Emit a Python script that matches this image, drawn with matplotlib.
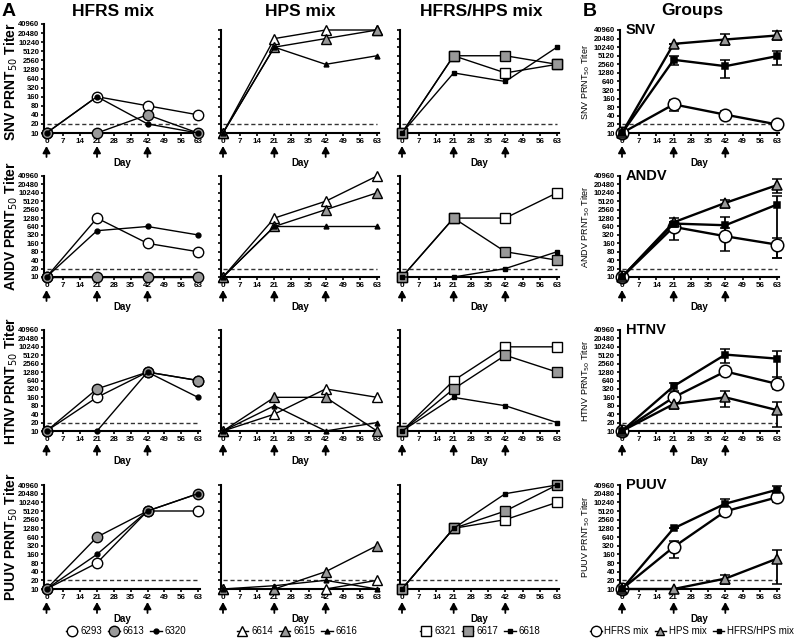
import matplotlib
matplotlib.use("Agg")
import matplotlib.pyplot as plt
from matplotlib.lines import Line2D

plt.rcParams['font.family'] = ['Liberation Sans', 'DejaVu Sans']

# ---- data (PRNT50 titers) ----
days = [0, 21, 42, 63]
viruses = ['SNV', 'ANDV', 'HTNV', 'PUUV']
vaccinated = [0, 21, 42]

# HFRS mix animals
hfrs_6293 = {'SNV': [10, 160, 80, 40], 'ANDV': [10, 1280, 160, 80],
             'HTNV': [10, 160, 1280, 640], 'PUUV': [10, 80, 5120, 5120]}
hfrs_6613 = {'SNV': [10, 10, 40, 10], 'ANDV': [10, 10, 10, 10],
             'HTNV': [10, 320, 1280, 640], 'PUUV': [10, 640, 5120, 20480]}
hfrs_6320 = {'SNV': [10, 160, 20, 10], 'ANDV': [10, 453, 640, 320],
             'HTNV': [10, 10, 1280, 160], 'PUUV': [10, 160, 5120, 20480]}
# HPS mix animals
hps_6614 = {'SNV': [10, 20480, 40960, 40960], 'ANDV': [10, 1280, 5120, 40960],
            'HTNV': [10, 40, 320, 160], 'PUUV': [10, 10, 10, 20]}
hps_6615 = {'SNV': [10, 10240, 20480, 40960], 'ANDV': [10, 640, 2560, 10240],
            'HTNV': [10, 160, 160, 10], 'PUUV': [10, 10, 40, 320]}
hps_6616 = {'SNV': [10, 10240, 2560, 5120], 'ANDV': [10, 640, 640, 640],
            'HTNV': [10, 80, 10, 20], 'PUUV': [10, 13, 20, 10]}
# HFRS/HPS mix animals
mix_6321 = {'SNV': [10, 5120, 1280, 2560], 'ANDV': [10, 1280, 1280, 10240],
            'HTNV': [10, 640, 10240, 10240], 'PUUV': [10, 1280, 2560, 10240]}
mix_6617 = {'SNV': [10, 5120, 5120, 2560], 'ANDV': [10, 1280, 80, 40],
            'HTNV': [10, 320, 5120, 1280], 'PUUV': [10, 1280, 5120, 40960]}
mix_6618 = {'SNV': [10, 1280, 640, 10240], 'ANDV': [10, 10, 20, 80],
            'HTNV': [10, 160, 80, 20], 'PUUV': [10, 1280, 20480, 40960]}

# group geometric means with error bar limits
grp_hfrs = {'SNV': [10, 101, 44, 20], 'ANDV': [10, 620, 287, 144],
            'HTNV': [10, 160, 1350, 485], 'PUUV': [10, 288, 5000, 15300]}
grp_hfrs_lo = {'SNV': [10, 59, 34, 15], 'ANDV': [10, 217, 88, 48],
               'HTNV': [10, 140, 1100, 320], 'PUUV': [10, 120, 3380, 10240]}
grp_hfrs_hi = {'SNV': [10, 149, 59, 26], 'ANDV': [10, 1280, 570, 250],
               'HTNV': [10, 185, 1650, 845], 'PUUV': [10, 453, 7240, 21900]}
grp_hps = {'SNV': [10, 13400, 19000, 26300], 'ANDV': [10, 905, 4470, 19300],
           'HTNV': [10, 92, 160, 56], 'PUUV': [10, 10, 23, 113]}
grp_hps_lo = {'SNV': [10, 13400, 11800, 17600], 'ANDV': [10, 905, 2940, 10240],
              'HTNV': [10, 61, 74, 14], 'PUUV': [10, 10, 15, 15]}
grp_hps_hi = {'SNV': [10, 13400, 30000, 37200], 'ANDV': [10, 905, 5880, 33300],
              'HTNV': [10, 121, 264, 112], 'PUUV': [10, 10, 31, 220]}
grp_mix = {'SNV': [10, 3690, 2210, 4950], 'ANDV': [10, 815, 710, 3900],
           'HTNV': [10, 400, 5400, 3880], 'PUUV': [10, 1280, 9200, 28000]}
grp_mix_lo = {'SNV': [10, 2340, 860, 2340], 'ANDV': [10, 815, 378, 48],
              'HTNV': [10, 264, 2710, 368], 'PUUV': [10, 1280, 6530, 22000]}
grp_mix_hi = {'SNV': [10, 4950, 3500, 7760], 'ANDV': [10, 815, 1370, 7760],
              'HTNV': [10, 527, 8430, 7340], 'PUUV': [10, 1280, 13500, 38200]}

yticks = [10 * 2 ** k for k in range(13)]
xticks = list(range(0, 64, 7))

W, H = 800, 638
fig = plt.figure(figsize=(W / 100, H / 100), dpi=100)

# panel geometry in pixels: (day0 x, day63 x) per column, (top, bottom) per row
col_x = [(46.5, 198), (223, 377), (402, 557), (622, 777)]
row_y = [(30, 133), (176, 277), (330, 431), (485, 589)]


def px_axes(c, r):
    x0, x63 = col_x[c]
    yt, yb = row_y[r]
    if c == 0 and r == 0:
        yt = 24
    ppd = (x63 - x0) / 63
    left, right = x0 - 1.0 * ppd, x63 + 1.0 * ppd
    ax = fig.add_axes([left / W, 1 - yb / H, (right - left) / W, (yb - yt) / H])
    return ax, yb - yt


def style_axes(ax, hpx, labels):
    ax.set_yscale('log', base=2)
    ax.set_ylim(10, 40960)
    ax.set_xlim(-1, 64)
    ax.set_yticks(yticks)
    ax.minorticks_off()
    ax.set_xticks(xticks)
    ax.set_xticklabels([str(t) for t in xticks], fontsize=5.8, fontweight='bold')
    if labels:
        ax.set_yticklabels([str(t) for t in yticks], fontsize=5.5, fontweight='bold')
    else:
        ax.set_yticklabels([])
    for s in ['top', 'right']:
        ax.spines[s].set_visible(False)
    for s in ['left', 'bottom']:
        ax.spines[s].set_linewidth(1.5)
    ax.tick_params(width=1.2, length=2.5, pad=0.8)
    ax.plot([0, 63], [20, 20], color='#333333', lw=1, dashes=(3, 2), zorder=1)
    ax.text(0.5, -30 / hpx, 'Day', transform=ax.transAxes, ha='center', va='center',
            fontsize=7, fontweight='bold')
    for d in vaccinated:
        ax.annotate('', xy=(d, -13 / hpx), xytext=(d, -24 / hpx),
                    xycoords=('data', 'axes fraction'),
                    arrowprops=dict(arrowstyle='-|>,head_width=0.22,head_length=0.4',
                                    color='black', lw=1.3, shrinkA=0, shrinkB=0),
                    annotation_clip=False)


open_kw = dict(mfc='white', mec='black', ms=7.5, mew=1)
gray_kw = dict(mfc='#999999', mec='black', ms=7.5, mew=1)
black_kw = dict(mfc='black', mec='black', ms=3.5, mew=1)

columns = [
    [(hfrs_6293, 'o', open_kw, '6293'), (hfrs_6613, 'o', gray_kw, '6613'),
     (hfrs_6320, 'o', black_kw, '6320')],
    [(hps_6614, '^', open_kw, '6614'), (hps_6615, '^', gray_kw, '6615'),
     (hps_6616, '^', black_kw, '6616')],
    [(mix_6321, 's', open_kw, '6321'), (mix_6617, 's', gray_kw, '6617'),
     (mix_6618, 's', black_kw, '6618')],
]
titles = ['HFRS mix', 'HPS mix', 'HFRS/HPS mix', 'Groups']
title_x = [113, 300, 481, 692]

for r, v in enumerate(viruses):
    for c, animals in enumerate(columns):
        ax, hpx = px_axes(c, r)
        style_axes(ax, hpx, labels=(c == 0))
        for data, mk, kw, name in animals:
            ms = kw['ms'] - (1 if mk == 's' and kw['ms'] > 4 else 0)
            ax.plot(days, data[v], marker=mk, color='black', lw=1.0,
                    clip_on=False, zorder=3, **{**kw, 'ms': ms})
        if c == 0:
            yt, yb = row_y[r]
            fig.text(11 / W, 1 - (yt + yb) / 2 / H, v + ' PRNT$_{50}$ Titer',
                     rotation=90, ha='center', va='center',
                     fontsize=10, fontweight='bold')

    # groups panel
    ax, hpx = px_axes(3, r)
    style_axes(ax, hpx, labels=True)
    groups = [(grp_hfrs, grp_hfrs_lo, grp_hfrs_hi, 'o', dict(mfc='white', ms=9)),
              (grp_hps, grp_hps_lo, grp_hps_hi, '^', dict(mfc='#999999', ms=7)),
              (grp_mix, grp_mix_lo, grp_mix_hi, 's', dict(mfc='black', ms=4))]
    for m, lo, hi, mk, kw in groups:
        mean = m[v]
        yerr = [[a - b for a, b in zip(mean, lo[v])], [b - a for a, b in zip(mean, hi[v])]]
        ax.errorbar(days, mean, yerr=yerr, marker=mk, color='black', lw=1.7,
                    mec='black', mew=1.1, capsize=3.5, elinewidth=1.3, capthick=1.3,
                    clip_on=False, zorder=3, **kw)
    ax.set_ylabel(v + ' PRNT$_{50}$ Titer', fontsize=6.5, labelpad=1)
    ax.text(0.04, 1.0, v, transform=ax.transAxes, ha='left', va='center',
            fontsize=10.5, fontweight='bold')

# titles and panel letters
for tx, t in zip(title_x, titles):
    fig.text(tx / W, 1 - 11 / H, t, ha='center', va='center',
             fontsize=12.5, fontweight='bold')
fig.text(2 / W, 1 - 11 / H, 'A', ha='left', va='center', fontsize=14, fontweight='bold')
fig.text(583 / W, 1 - 11 / H, 'B', ha='left', va='center', fontsize=14, fontweight='bold')

# legends
legend_sets = [animals for animals in columns]
legend_sets.append([(None, 'o', dict(mfc='white', mec='black', ms=7.5, mew=1), 'HFRS mix'),
                    (None, '^', dict(mfc='#999999', mec='black', ms=6, mew=1), 'HPS mix'),
                    (None, 's', dict(mfc='black', mec='black', ms=3.5, mew=1), 'HFRS/HPS mix')])
legend_x = [126, 297, 480, 692]
for lx, items in zip(legend_x, legend_sets):
    handles = [Line2D([], [], marker=mk, color='black', lw=1.0, **kw) for _, mk, kw, _ in items]
    names = [n for _, _, _, n in items]
    fig.legend(handles, names, loc='center', bbox_to_anchor=(lx / W, 1 - 631 / H),
               ncol=3, frameon=False, fontsize=7, handlelength=1.2,
               handletextpad=0.3, columnspacing=0.6, borderpad=0.1)

fig.savefig('out.png', dpi=100)
